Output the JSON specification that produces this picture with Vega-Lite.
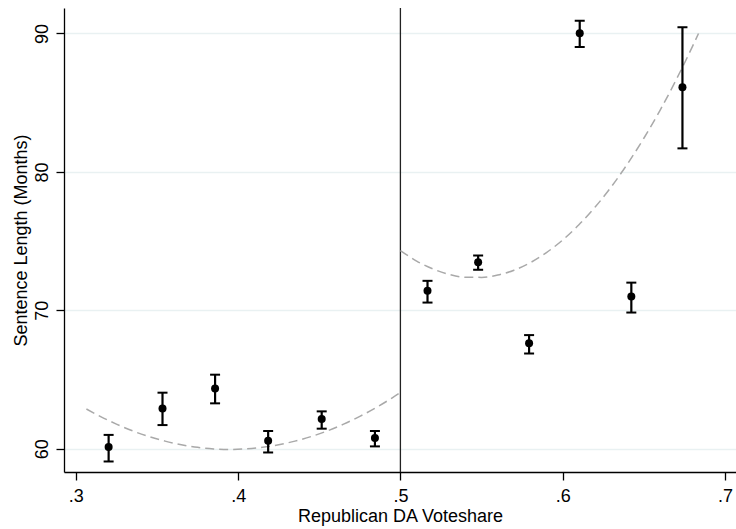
{
  "$schema": "https://vega.github.io/schema/vega-lite/v6.json",
  "width": 672,
  "height": 464,
  "autosize": {"type": "none"},
  "padding": {"left": 64, "top": 8, "right": 0, "bottom": 57},
  "background": "white",
  "config": {
    "view": {"stroke": null},
    "font": "Liberation Sans",
    "axis": {
      "labelFont": "Liberation Sans",
      "titleFont": "Liberation Sans",
      "labelFontSize": 18,
      "titleFontSize": 18,
      "titleFontWeight": "normal",
      "labelColor": "#000",
      "titleColor": "#000",
      "domainColor": "#000",
      "domainWidth": 1.3,
      "tickColor": "#000",
      "tickWidth": 1.3,
      "tickSize": 8
    }
  },
  "datasets": {
    "bins": [
      {"x": 0.3202, "y": 60.12, "lo": 59.08, "hi": 61.0},
      {"x": 0.3534, "y": 62.91, "lo": 61.71, "hi": 64.05},
      {"x": 0.3858, "y": 64.36, "lo": 63.28, "hi": 65.35},
      {"x": 0.4185, "y": 60.58, "lo": 59.73, "hi": 61.28},
      {"x": 0.4515, "y": 62.15, "lo": 61.45, "hi": 62.7},
      {"x": 0.4843, "y": 60.77, "lo": 60.17, "hi": 61.28},
      {"x": 0.5167, "y": 71.41, "lo": 70.56, "hi": 72.13},
      {"x": 0.5479, "y": 73.48, "lo": 72.93, "hi": 73.96},
      {"x": 0.5793, "y": 67.63, "lo": 66.88, "hi": 68.21},
      {"x": 0.6105, "y": 90.01, "lo": 89.03, "hi": 90.92},
      {"x": 0.6423, "y": 71.0, "lo": 69.84, "hi": 72.0},
      {"x": 0.6738, "y": 86.12, "lo": 81.7, "hi": 90.45}
    ],
    "fit": [
      {"side": "left", "x": 0.3065, "y": 62.87},
      {"side": "left", "x": 0.315, "y": 62.34},
      {"side": "left", "x": 0.325, "y": 61.78},
      {"side": "left", "x": 0.335, "y": 61.29},
      {"side": "left", "x": 0.345, "y": 60.88},
      {"side": "left", "x": 0.355, "y": 60.55},
      {"side": "left", "x": 0.365, "y": 60.29},
      {"side": "left", "x": 0.375, "y": 60.1},
      {"side": "left", "x": 0.385, "y": 59.99},
      {"side": "left", "x": 0.395, "y": 59.95},
      {"side": "left", "x": 0.405, "y": 59.99},
      {"side": "left", "x": 0.415, "y": 60.1},
      {"side": "left", "x": 0.425, "y": 60.29},
      {"side": "left", "x": 0.435, "y": 60.55},
      {"side": "left", "x": 0.445, "y": 60.88},
      {"side": "left", "x": 0.455, "y": 61.29},
      {"side": "left", "x": 0.465, "y": 61.78},
      {"side": "left", "x": 0.475, "y": 62.34},
      {"side": "left", "x": 0.485, "y": 62.97},
      {"side": "left", "x": 0.495, "y": 63.68},
      {"side": "left", "x": 0.5, "y": 64.06},
      {"side": "right", "x": 0.5, "y": 74.32},
      {"side": "right", "x": 0.51, "y": 73.56},
      {"side": "right", "x": 0.52, "y": 72.99},
      {"side": "right", "x": 0.53, "y": 72.6},
      {"side": "right", "x": 0.54, "y": 72.39},
      {"side": "right", "x": 0.55, "y": 72.38},
      {"side": "right", "x": 0.56, "y": 72.55},
      {"side": "right", "x": 0.57, "y": 72.9},
      {"side": "right", "x": 0.58, "y": 73.44},
      {"side": "right", "x": 0.59, "y": 74.17},
      {"side": "right", "x": 0.6, "y": 75.08},
      {"side": "right", "x": 0.61, "y": 76.18},
      {"side": "right", "x": 0.62, "y": 77.46},
      {"side": "right", "x": 0.63, "y": 78.93},
      {"side": "right", "x": 0.64, "y": 80.59},
      {"side": "right", "x": 0.65, "y": 82.43},
      {"side": "right", "x": 0.66, "y": 84.45},
      {"side": "right", "x": 0.67, "y": 86.67},
      {"side": "right", "x": 0.68, "y": 89.07},
      {"side": "right", "x": 0.6837, "y": 90.0}
    ]
  },
  "layer": [
    {
      "data": {"name": "bins"},
      "mark": {"type": "point", "opacity": 0},
      "encoding": {
        "x": {
          "field": "x", "type": "quantitative",
          "scale": {"domain": [0.2927, 0.7068], "nice": false, "zero": false},
          "axis": {
            "title": "Republican DA Voteshare",
            "values": [0.3, 0.4, 0.5, 0.6, 0.7],
            "labelExpr": "substring(format(datum.value, '.1f'), 1)",
            "grid": false,
            "labelPadding": 7,
            "titlePadding": 2
          }
        },
        "y": {
          "field": "y", "type": "quantitative",
          "scale": {"domain": [58.32, 91.84], "nice": false, "zero": false},
          "axis": {
            "title": "Sentence Length (Months)",
            "values": [60, 70, 80, 90],
            "labelAngle": -90,
            "labelAlign": "center",
            "labelBaseline": "bottom",
            "labelPadding": 5,
            "grid": true,
            "gridColor": "#e9f1f2",
            "gridWidth": 1.5,
            "titlePadding": 3
          }
        }
      }
    },
    {
      "data": {"values": [{"v": 0.5}]},
      "mark": {"type": "rule", "color": "#222", "strokeWidth": 1.3},
      "encoding": {
        "x": {"field": "v", "type": "quantitative"}
      }
    },
    {
      "data": {"name": "fit"},
      "mark": {"type": "line", "color": "#a9a9a9", "strokeWidth": 1.5, "strokeDash": [9, 5], "interpolate": "monotone"},
      "encoding": {
        "x": {"field": "x", "type": "quantitative"},
        "y": {"field": "y", "type": "quantitative"},
        "detail": {"field": "side"}
      }
    },
    {
      "data": {"name": "bins"},
      "mark": {"type": "rule", "color": "#000", "strokeWidth": 2.2},
      "encoding": {
        "x": {"field": "x", "type": "quantitative"},
        "y": {"field": "lo", "type": "quantitative"},
        "y2": {"field": "hi"}
      }
    },
    {
      "data": {"name": "bins"},
      "mark": {"type": "tick", "orient": "horizontal", "color": "#000", "size": 10, "thickness": 2, "opacity": 1},
      "encoding": {
        "x": {"field": "x", "type": "quantitative"},
        "y": {"field": "lo", "type": "quantitative"}
      }
    },
    {
      "data": {"name": "bins"},
      "mark": {"type": "tick", "orient": "horizontal", "color": "#000", "size": 10, "thickness": 2, "opacity": 1},
      "encoding": {
        "x": {"field": "x", "type": "quantitative"},
        "y": {"field": "hi", "type": "quantitative"}
      }
    },
    {
      "data": {"name": "bins"},
      "mark": {"type": "circle", "color": "#000", "size": 64, "opacity": 1},
      "encoding": {
        "x": {"field": "x", "type": "quantitative"},
        "y": {"field": "y", "type": "quantitative"}
      }
    }
  ]
}
